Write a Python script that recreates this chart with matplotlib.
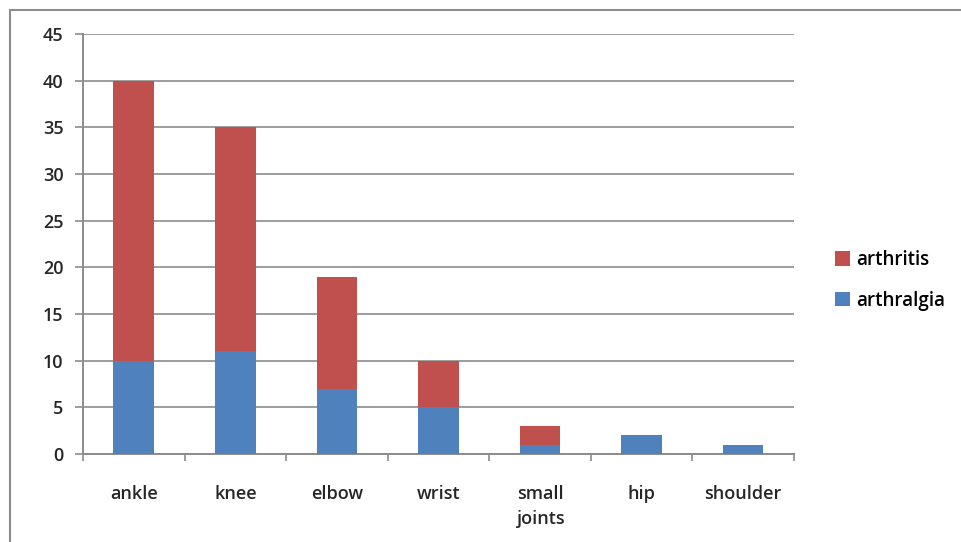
import matplotlib.pyplot as plt
import numpy as np
from matplotlib.patches import Rectangle

joints = ["ankle", "knee", "elbow", "wrist", "small\njoints", "hip", "shoulder"]
arthralgia = [10, 11, 7, 5, 1, 2, 1]
arthritis = [30, 24, 12, 5, 2, 0, 0]

RED = "#C0504D"
BLUE = "#4F81BD"
GRID = "#8C8C8C"

plt.rcParams["font.family"] = ["Open Sans", "DejaVu Sans"]
plt.rcParams["font.weight"] = "semibold"

fig = plt.figure(figsize=(9.62, 5.42), dpi=100)
ax = fig.add_axes([0.0863, 0.1624, 0.739, 0.775])

x = np.arange(len(joints))
b1 = ax.bar(x, arthralgia, width=0.4, color=BLUE, zorder=3)
b2 = ax.bar(x, arthritis, width=0.4, bottom=arthralgia, color=RED, zorder=3)

ax.set_xlim(-0.5, len(joints) - 0.5)
ax.set_ylim(0, 45)
ax.set_yticks(np.arange(0, 46, 5))
ax.yaxis.grid(True, color=GRID, linewidth=1.2, zorder=0)

ax.set_xticks(x)
ax.set_xticklabels(joints, fontsize=13, color="#262626", linespacing=1.5)
ax.set_xticks(np.arange(-0.5, len(joints), 1), minor=True)
ax.tick_params(axis="x", which="major", length=0, pad=22)
ax.tick_params(axis="x", which="minor", length=5, color=GRID, width=1.2)
ax.tick_params(axis="y", length=6, color=GRID, width=1.2, labelsize=13,
               labelcolor="#262626", pad=8)

ax.spines["top"].set_visible(False)
ax.spines["right"].set_visible(False)
for s in ("left", "bottom"):
    ax.spines[s].set_color(GRID)
    ax.spines[s].set_linewidth(1.4)

fig.legend([b2, b1], ["arthritis", "arthralgia"], loc="center left",
           bbox_to_anchor=(0.85, 0.483), frameon=False, fontsize=13.5,
           handlelength=0.8, handleheight=0.8, handletextpad=0.35,
           labelspacing=1.1)

# outer chart frame
fig.patches.append(Rectangle((10 / 962, -0.05), 1.1, 0.05 + 1 - 10 / 542,
                             transform=fig.transFigure, fill=False,
                             edgecolor="#8C8C8C", linewidth=1.5))

fig.savefig("out.png", dpi=100)
